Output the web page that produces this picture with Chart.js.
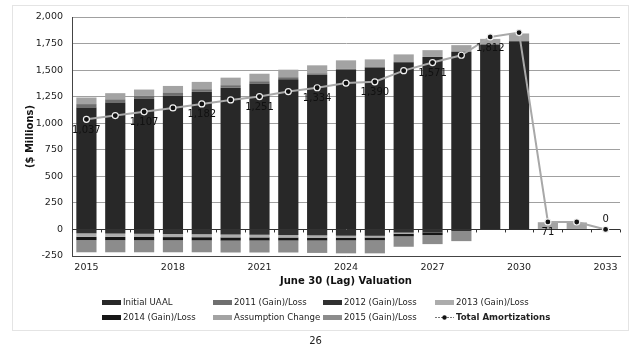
<!DOCTYPE html>
<html>
<head>
<meta charset="utf-8">
<script src="https://cdn.jsdelivr.net/npm/chart.js@4.4.1/dist/chart.umd.min.js"></script>
<style>
html, body { margin: 0; padding: 0; background: #fff; }
#wrap { position: relative; width: 631px; height: 352px; overflow: hidden; }
#frame { position: absolute; left: 12px; top: 5px; width: 615px; height: 324px; border: 1px solid #e4e4e4; }
#page { position: absolute; left: 0; width: 631px; top: 335px; text-align: center; font: 10px 'DejaVu Sans'; color: #222; }
canvas { position: absolute; left: 0; top: 0; }
</style>
</head>
<body>
<div id="wrap">
  <div id="frame"></div>
  <canvas id="chart" width="631" height="352"></canvas>
  <div id="page">26</div>
</div>
<script>
const years = ['2015','2016','2017','2018','2019','2020','2021','2022','2023','2024',
               '2025','2026','2027','2028','2029','2030','2031','2032','2033'];

const initialUAAL      = [1148, 1195, 1230, 1262, 1295, 1335, 1375, 1415, 1455, 1500, 1525, 1575, 1624, 1672, 1741, 1772, 0, 0, 0];
const gainLoss2011     = [32, 30, 28, 27, 25, 23, 20, 18, 15, 12, 8, 5, 0, 0, 0, 0, 0, 0, 0];
const gainLoss2012     = [-37, -39, -41, -43, -45, -48, -50, -53, -56, -59, -60, -30, -30, -16, 0, 0, 0, 0, 0];
const gainLoss2013     = [-32, -31, -30, -29, -28, -27, -25, -23, -21, -18, -16, -10, 0, 0, 0, 0, 0, 0, 0];
const gainLoss2014     = [-31, -31, -31, -30, -30, -30, -29, -28, -27, -26, -26, -25, -23, 0, 0, 0, 0, 0, 0];
const assumptionChange = [62, 58, 59, 62, 69, 71, 71, 71, 75, 80, 68, 68, 64, 63, 53, 73, 68, 66, 0];
const gainLoss2015     = [-115, -114, -113, -113, -112, -112, -113, -113, -117, -122, -123, -98, -85, -94, 0, 0, 0, 0, 0];
const totalAmort       = [1037, 1072, 1107, 1144, 1182, 1219, 1251, 1298, 1334, 1378, 1390, 1495, 1571, 1640, 1812, 1853, 71, 70, 0];

const yMin = -250, yMax = 2000, yStep = 250;

const FONT = 'DejaVu Sans';

function bar(label, data, color) {
  return { type: 'bar', label, data, backgroundColor: color, stack: 'bars', order: 1,
           categoryPercentage: 0.7, barPercentage: 1.0, borderWidth: 0 };
}

const extras = {
  id: 'extras',
  beforeDatasetsDraw(chart) {
    const { ctx, scales: { x, y } } = chart;
    const y0 = y.getPixelForValue(0);
    const step = (x.right - x.left) / years.length;
    ctx.save();
    ctx.strokeStyle = '#333';
    ctx.lineWidth = 1;
    for (let i = 0; i <= years.length; i++) {
      const px = Math.round(x.left + i * step) + 0.5;
      ctx.beginPath(); ctx.moveTo(px, y0); ctx.lineTo(px, y0 + 3); ctx.stroke();
    }
    ctx.restore();
  },
  afterDatasetsDraw(chart) {
    const { ctx } = chart;
    const meta = chart.getDatasetMeta(7);
    ctx.save();
    ctx.font = '10px "' + FONT + '"';
    ctx.fillStyle = '#111';
    ctx.textAlign = 'center';
    ctx.textBaseline = 'middle';
    totalAmort.forEach((v, i) => {
      if (i % 2) return;
      const pt = meta.data[i];
      const dy = v === 0 ? -10 : 11;
      ctx.fillText(v.toLocaleString('en-US'), pt.x, pt.y + dy);
    });
    ctx.restore();
  },
  afterDraw(chart) {
    // legend as a 4 x 2 grid
    const { ctx } = chart;
    const cols = [102, 213, 323, 435];
    const rows = [302, 317];
    ctx.save();
    ctx.textBaseline = 'middle';
    ctx.textAlign = 'left';
    chart.data.datasets.forEach((ds, i) => {
      const cx = cols[i % 4], cy = rows[Math.floor(i / 4)];
      if (ds.type === 'line') {
        ctx.strokeStyle = '#777';
        ctx.lineWidth = 1;
        ctx.setLineDash([2, 1]);
        ctx.beginPath(); ctx.moveTo(cx, cy + 0.5); ctx.lineTo(cx + 19, cy + 0.5); ctx.stroke();
        ctx.setLineDash([]);
        ctx.fillStyle = '#111';
        ctx.beginPath(); ctx.arc(cx + 9.5, cy + 0.5, 2.2, 0, Math.PI * 2); ctx.fill();
        ctx.font = 'bold 8.6px "' + FONT + '"';
      } else {
        ctx.fillStyle = ds.backgroundColor;
        ctx.fillRect(cx, cy - 2, 19, 5);
        ctx.font = '8.6px "' + FONT + '"';
      }
      ctx.fillStyle = '#222';
      ctx.fillText(ds.label, cx + 21, cy + 1);
    });
    ctx.restore();
  }
};

new Chart(document.getElementById('chart').getContext('2d'), {
  data: {
    labels: years,
    datasets: [
      bar('Initial UAAL', initialUAAL, '#282828'),
      bar('2011 (Gain)/Loss', gainLoss2011, '#6f6f6f'),
      bar('2012 (Gain)/Loss', gainLoss2012, '#303030'),
      bar('2013 (Gain)/Loss', gainLoss2013, '#acacac'),
      bar('2014 (Gain)/Loss', gainLoss2014, '#161616'),
      bar('Assumption Change', assumptionChange, '#a3a3a3'),
      bar('2015 (Gain)/Loss', gainLoss2015, '#8c8c8c'),
      {
        type: 'line', label: 'Total Amortizations', data: totalAmort, stack: 'total', order: 0,
        borderColor: '#a8a8a8', borderWidth: 2, tension: 0,
        pointRadius: 3, pointBackgroundColor: '#111', pointBorderColor: '#f0f0f0', pointBorderWidth: 1.2
      }
    ]
  },
  options: {
    responsive: false,
    animation: false,
    layout: { padding: { left: 0, top: 17, right: 11, bottom: 62 } },
    plugins: { legend: { display: false }, tooltip: { enabled: false } },
    scales: {
      x: {
        stacked: true,
        grid: { display: false, drawTicks: false },
        border: { color: '#444', width: 1 },
        ticks: {
          autoSkip: false, maxRotation: 0, padding: 6,
          color: '#222', font: { family: FONT, size: 9.5 },
          callback: (v, i) => (i % 3 === 0 ? years[i] : '')
        },
        title: { display: true, text: 'June 30 (Lag) Valuation', color: '#111',
                 font: { family: FONT, size: 10, weight: 'bold' }, padding: { top: 0, bottom: 3 } },
        afterFit: (s) => { s.height = 34; }
      },
      y: {
        stacked: true,
        min: yMin, max: yMax,
        grid: {
          drawTicks: false,
          color: (c) => (c.tick.value === 0 ? '#333' : (c.tick.value === yMin ? '#444' : '#a0a0a0')),
          lineWidth: 1
        },
        border: { color: '#444', width: 1 },
        ticks: {
          stepSize: yStep, padding: 9, color: '#222',
          font: { family: FONT, size: 9.5 },
          callback: (v) => v.toLocaleString('en-US')
        },
        title: { display: true, text: '($ Millions)', color: '#111',
                 font: { family: FONT, size: 10, weight: 'bold' }, padding: { top: 24, bottom: 0 } },
        afterFit: (s) => { s.width = 72; }
      }
    }
  },
  plugins: [extras]
});
</script>
</body>
</html>
